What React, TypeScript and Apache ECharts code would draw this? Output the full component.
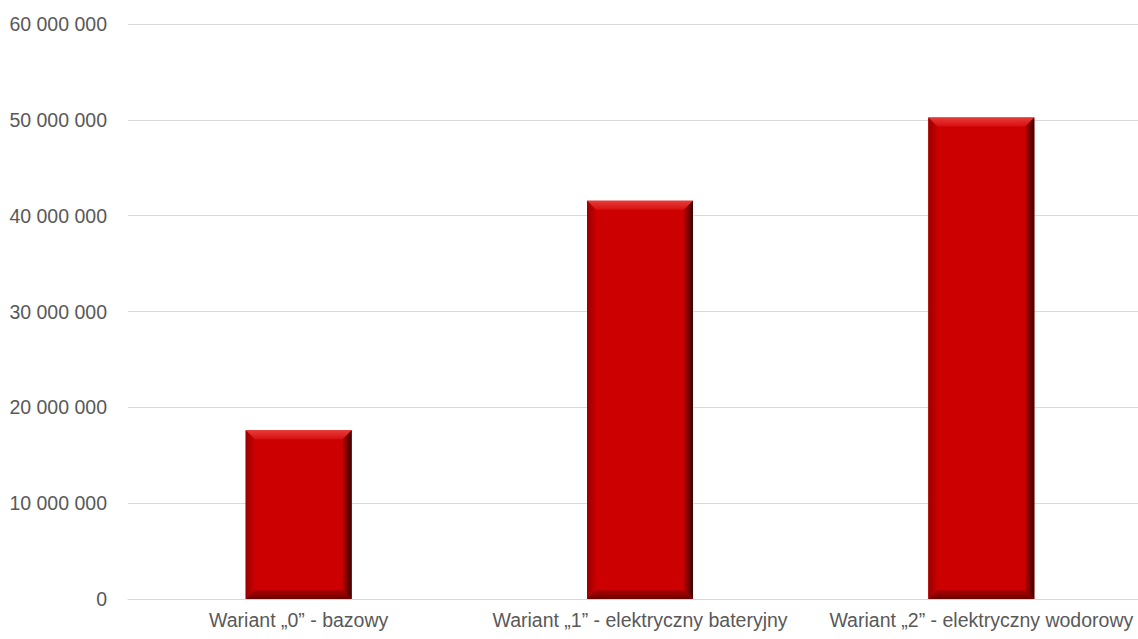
import React, { useEffect, useRef } from "react";
import * as echarts from "echarts";

const categories = [
  "Wariant „0” - bazowy",
  "Wariant „1” - elektryczny bateryjny",
  "Wariant „2” - elektryczny wodorowy",
];
const values = [17600000, 41550000, 50250000];
const yTicks = { min: 0, max: 60000000, interval: 10000000 };

const fmt = (v: number) => String(v).replace(/\B(?=(\d{3})+(?!\d))/g, " ");

export default function App() {
  const ref = useRef<HTMLDivElement>(null);
  useEffect(() => {
    const chart = echarts.init(ref.current!, null, { renderer: "svg" });
    const font = "'Liberation Sans', Arial, sans-serif";
    chart.setOption({
      animation: false,
      grid: { left: 128, width: 1024, top: 24, bottom: 40, containLabel: false, outerBoundsMode: "none" },
      xAxis: {
        type: "category",
        data: categories,
        axisLine: { show: true, lineStyle: { color: "#d9d9d9" } },
        axisTick: { show: false },
        axisLabel: { color: "#595959", fontSize: 19.5, fontFamily: font, margin: 11, interval: 0, hideOverlap: false },
      },
      yAxis: {
        type: "value",
        min: yTicks.min,
        max: yTicks.max,
        interval: yTicks.interval,
        axisLine: { show: false },
        axisTick: { show: false },
        splitLine: { lineStyle: { color: "#d9d9d9" } },
        axisLabel: { color: "#595959", fontSize: 19.5, fontFamily: font, margin: 21, formatter: (v: number) => fmt(v) },
      },
      series: [
        {
          type: "custom",
          data: values.map((v, i) => [i, v]),
          encode: { x: 0, y: 1 },
          renderItem: (params: any, api: any) => {
            const top = api.coord([api.value(0), api.value(1)]);
            const base = api.coord([api.value(0), 0]);
            const w = 106;
            const x0 = top[0] - w / 2;
            const x1 = top[0] + w / 2;
            const y0 = top[1];
            const y1 = base[1];
            const b = 9;
            return {
              type: "group",
              children: [
                { type: "rect", shape: { x: x0, y: y0, width: w, height: y1 - y0 }, style: { fill: "#cc0000" } },
                {
                  type: "polygon",
                  shape: { points: [[x0, y0], [x1, y0], [x1 - b, y0 + b], [x0 + b, y0 + b]] },
                  style: {
                    fill: new echarts.graphic.LinearGradient(0, 0, 0, 1, [
                      { offset: 0, color: "#e83a3a" },
                      { offset: 1, color: "#d61010" },
                    ]),
                  },
                },
                {
                  type: "polygon",
                  shape: { points: [[x0, y0], [x0 + b, y0 + b], [x0 + b, y1 - b], [x0, y1]] },
                  style: {
                    fill: new echarts.graphic.LinearGradient(0, 0, 1, 0, [
                      { offset: 0, color: "#9a0000" },
                      { offset: 1, color: "#c80000" },
                    ]),
                  },
                },
                {
                  type: "polygon",
                  shape: { points: [[x1, y0], [x1 - b, y0 + b], [x1 - b, y1 - b], [x1, y1]] },
                  style: {
                    fill: new echarts.graphic.LinearGradient(0, 0, 1, 0, [
                      { offset: 0, color: "#b80000" },
                      { offset: 1, color: "#3a0000" },
                    ]),
                  },
                },
                {
                  type: "polygon",
                  shape: { points: [[x0, y1], [x1, y1], [x1 - b, y1 - b], [x0 + b, y1 - b]] },
                  style: {
                    fill: new echarts.graphic.LinearGradient(0, 0, 0, 1, [
                      { offset: 0, color: "#b00000" },
                      { offset: 1, color: "#6a0000" },
                    ]),
                  },
                },
              ],
            };
          },
        },
      ],
    });
    return () => chart.dispose();
  }, []);
  return <div ref={ref} style={{ width: 1138, height: 639, position: "absolute", left: 0, top: 0, background: "#fff" }} />;
}
